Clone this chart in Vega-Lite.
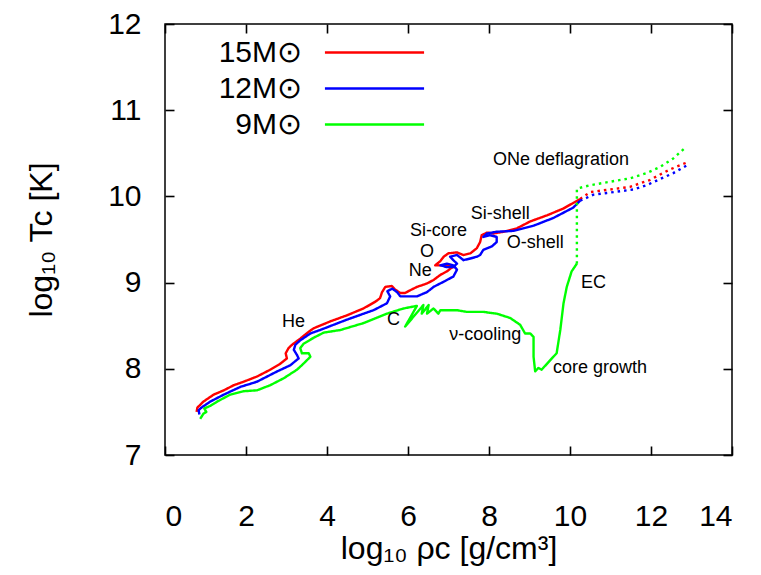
{
  "$schema": "https://vega.github.io/schema/vega-lite/v6.json",
  "autosize": {"type": "none"},
  "padding": {"left": 165, "top": 24, "right": 29, "bottom": 120},
  "width": 567,
  "height": 431,
  "config": {
    "font": "Liberation Sans",
    "view": {"stroke": "#000", "strokeWidth": 1.5},
    "axis": {"grid": false, "domain": false, "tickColor": "#000", "tickWidth": 1.6, "labelColor": "#000", "titleColor": "#000", "labelFont": "Liberation Sans", "titleFont": "Liberation Sans", "titleFontWeight": "normal"}
  },
  "datasets": {
    "tracks": [
      {"s":"15M⊙","p":"hydro","i":1,"x":0.78,"y":7.50},{"s":"15M⊙","p":"hydro","i":2,"x":0.80,"y":7.55},{"s":"15M⊙","p":"hydro","i":3,"x":0.95,"y":7.62},{"s":"15M⊙","p":"hydro","i":4,"x":1.20,"y":7.70},{"s":"15M⊙","p":"hydro","i":5,"x":1.45,"y":7.75},{"s":"15M⊙","p":"hydro","i":6,"x":1.70,"y":7.81},{"s":"15M⊙","p":"hydro","i":7,"x":1.94,"y":7.85},{"s":"15M⊙","p":"hydro","i":8,"x":2.27,"y":7.91},{"s":"15M⊙","p":"hydro","i":9,"x":2.60,"y":7.99},{"s":"15M⊙","p":"hydro","i":10,"x":2.85,"y":8.06},{"s":"15M⊙","p":"hydro","i":11,"x":3.01,"y":8.12},{"s":"15M⊙","p":"hydro","i":12,"x":2.98,"y":8.18},{"s":"15M⊙","p":"hydro","i":13,"x":3.05,"y":8.24},{"s":"15M⊙","p":"hydro","i":14,"x":3.14,"y":8.28},{"s":"15M⊙","p":"hydro","i":15,"x":3.34,"y":8.35},{"s":"15M⊙","p":"hydro","i":16,"x":3.55,"y":8.43},{"s":"15M⊙","p":"hydro","i":17,"x":3.67,"y":8.47},{"s":"15M⊙","p":"hydro","i":18,"x":4.08,"y":8.55},{"s":"15M⊙","p":"hydro","i":19,"x":4.49,"y":8.62},{"s":"15M⊙","p":"hydro","i":20,"x":4.90,"y":8.70},{"s":"15M⊙","p":"hydro","i":21,"x":5.20,"y":8.78},{"s":"15M⊙","p":"hydro","i":22,"x":5.31,"y":8.82},{"s":"15M⊙","p":"hydro","i":23,"x":5.36,"y":8.89},{"s":"15M⊙","p":"hydro","i":24,"x":5.44,"y":8.95},{"s":"15M⊙","p":"hydro","i":25,"x":5.60,"y":8.96},{"s":"15M⊙","p":"hydro","i":26,"x":5.68,"y":8.92},{"s":"15M⊙","p":"hydro","i":27,"x":5.81,"y":8.88},{"s":"15M⊙","p":"hydro","i":28,"x":5.93,"y":8.88},{"s":"15M⊙","p":"hydro","i":29,"x":6.05,"y":8.91},{"s":"15M⊙","p":"hydro","i":30,"x":6.22,"y":8.95},{"s":"15M⊙","p":"hydro","i":31,"x":6.47,"y":8.99},{"s":"15M⊙","p":"hydro","i":32,"x":6.63,"y":9.03},{"s":"15M⊙","p":"hydro","i":33,"x":6.80,"y":9.09},{"s":"15M⊙","p":"hydro","i":34,"x":6.96,"y":9.13},{"s":"15M⊙","p":"hydro","i":35,"x":7.04,"y":9.16},{"s":"15M⊙","p":"hydro","i":36,"x":7.15,"y":9.19},{"s":"15M⊙","p":"hydro","i":37,"x":6.92,"y":9.20},{"s":"15M⊙","p":"hydro","i":38,"x":6.67,"y":9.20},{"s":"15M⊙","p":"hydro","i":39,"x":6.80,"y":9.25},{"s":"15M⊙","p":"hydro","i":40,"x":6.88,"y":9.30},{"s":"15M⊙","p":"hydro","i":41,"x":7.00,"y":9.34},{"s":"15M⊙","p":"hydro","i":42,"x":7.21,"y":9.35},{"s":"15M⊙","p":"hydro","i":43,"x":7.37,"y":9.32},{"s":"15M⊙","p":"hydro","i":44,"x":7.54,"y":9.34},{"s":"15M⊙","p":"hydro","i":45,"x":7.70,"y":9.40},{"s":"15M⊙","p":"hydro","i":46,"x":7.78,"y":9.47},{"s":"15M⊙","p":"hydro","i":47,"x":7.82,"y":9.55},{"s":"15M⊙","p":"hydro","i":48,"x":7.95,"y":9.58},{"s":"15M⊙","p":"hydro","i":49,"x":8.11,"y":9.57},{"s":"15M⊙","p":"hydro","i":50,"x":8.36,"y":9.59},{"s":"15M⊙","p":"hydro","i":51,"x":8.69,"y":9.63},{"s":"15M⊙","p":"hydro","i":52,"x":9.02,"y":9.71},{"s":"15M⊙","p":"hydro","i":53,"x":9.43,"y":9.78},{"s":"15M⊙","p":"hydro","i":54,"x":9.84,"y":9.86},{"s":"15M⊙","p":"hydro","i":55,"x":10.25,"y":9.97},
      {"s":"15M⊙","p":"defl","i":56,"x":10.25,"y":9.97},{"s":"15M⊙","p":"defl","i":57,"x":10.50,"y":10.05},{"s":"15M⊙","p":"defl","i":58,"x":10.82,"y":10.07},{"s":"15M⊙","p":"defl","i":59,"x":11.15,"y":10.09},{"s":"15M⊙","p":"defl","i":60,"x":11.48,"y":10.11},{"s":"15M⊙","p":"defl","i":61,"x":11.72,"y":10.15},{"s":"15M⊙","p":"defl","i":62,"x":11.97,"y":10.19},{"s":"15M⊙","p":"defl","i":63,"x":12.21,"y":10.25},{"s":"15M⊙","p":"defl","i":64,"x":12.46,"y":10.31},{"s":"15M⊙","p":"defl","i":65,"x":12.71,"y":10.36},{"s":"15M⊙","p":"defl","i":66,"x":12.92,"y":10.40},
      {"s":"12M⊙","p":"hydro","i":101,"x":0.85,"y":7.47},{"s":"12M⊙","p":"hydro","i":102,"x":0.83,"y":7.52},{"s":"12M⊙","p":"hydro","i":103,"x":0.90,"y":7.55},{"s":"12M⊙","p":"hydro","i":104,"x":1.12,"y":7.62},{"s":"12M⊙","p":"hydro","i":105,"x":1.45,"y":7.70},{"s":"12M⊙","p":"hydro","i":106,"x":1.86,"y":7.79},{"s":"12M⊙","p":"hydro","i":107,"x":2.27,"y":7.85},{"s":"12M⊙","p":"hydro","i":108,"x":2.77,"y":7.97},{"s":"12M⊙","p":"hydro","i":109,"x":3.09,"y":8.04},{"s":"12M⊙","p":"hydro","i":110,"x":3.30,"y":8.12},{"s":"12M⊙","p":"hydro","i":111,"x":3.26,"y":8.16},{"s":"12M⊙","p":"hydro","i":112,"x":3.18,"y":8.22},{"s":"12M⊙","p":"hydro","i":113,"x":3.22,"y":8.28},{"s":"12M⊙","p":"hydro","i":114,"x":3.34,"y":8.33},{"s":"12M⊙","p":"hydro","i":115,"x":3.59,"y":8.41},{"s":"12M⊙","p":"hydro","i":116,"x":3.83,"y":8.45},{"s":"12M⊙","p":"hydro","i":117,"x":4.49,"y":8.57},{"s":"12M⊙","p":"hydro","i":118,"x":5.15,"y":8.68},{"s":"12M⊙","p":"hydro","i":119,"x":5.48,"y":8.76},{"s":"12M⊙","p":"hydro","i":120,"x":5.56,"y":8.84},{"s":"12M⊙","p":"hydro","i":121,"x":5.49,"y":8.90},{"s":"12M⊙","p":"hydro","i":122,"x":5.61,"y":8.93},{"s":"12M⊙","p":"hydro","i":123,"x":5.73,"y":8.89},{"s":"12M⊙","p":"hydro","i":124,"x":5.81,"y":8.84},{"s":"12M⊙","p":"hydro","i":125,"x":6.22,"y":8.84},{"s":"12M⊙","p":"hydro","i":126,"x":6.47,"y":8.89},{"s":"12M⊙","p":"hydro","i":127,"x":6.63,"y":8.95},{"s":"12M⊙","p":"hydro","i":128,"x":6.88,"y":9.01},{"s":"12M⊙","p":"hydro","i":129,"x":7.12,"y":9.07},{"s":"12M⊙","p":"hydro","i":130,"x":7.21,"y":9.15},{"s":"12M⊙","p":"hydro","i":131,"x":7.12,"y":9.20},{"s":"12M⊙","p":"hydro","i":132,"x":6.96,"y":9.22},{"s":"12M⊙","p":"hydro","i":133,"x":6.80,"y":9.20},{"s":"12M⊙","p":"hydro","i":134,"x":6.96,"y":9.18},{"s":"12M⊙","p":"hydro","i":135,"x":7.12,"y":9.18},{"s":"12M⊙","p":"hydro","i":136,"x":7.21,"y":9.22},{"s":"12M⊙","p":"hydro","i":137,"x":7.12,"y":9.26},{"s":"12M⊙","p":"hydro","i":138,"x":7.04,"y":9.30},{"s":"12M⊙","p":"hydro","i":139,"x":7.21,"y":9.32},{"s":"12M⊙","p":"hydro","i":140,"x":7.37,"y":9.26},{"s":"12M⊙","p":"hydro","i":141,"x":7.54,"y":9.28},{"s":"12M⊙","p":"hydro","i":142,"x":7.70,"y":9.30},{"s":"12M⊙","p":"hydro","i":143,"x":7.78,"y":9.32},{"s":"12M⊙","p":"hydro","i":144,"x":7.86,"y":9.38},{"s":"12M⊙","p":"hydro","i":145,"x":8.07,"y":9.42},{"s":"12M⊙","p":"hydro","i":146,"x":8.19,"y":9.47},{"s":"12M⊙","p":"hydro","i":147,"x":8.19,"y":9.53},{"s":"12M⊙","p":"hydro","i":148,"x":8.03,"y":9.55},{"s":"12M⊙","p":"hydro","i":149,"x":7.86,"y":9.53},{"s":"12M⊙","p":"hydro","i":150,"x":7.95,"y":9.57},{"s":"12M⊙","p":"hydro","i":151,"x":8.19,"y":9.59},{"s":"12M⊙","p":"hydro","i":152,"x":8.60,"y":9.60},{"s":"12M⊙","p":"hydro","i":153,"x":9.10,"y":9.66},{"s":"12M⊙","p":"hydro","i":154,"x":9.59,"y":9.75},{"s":"12M⊙","p":"hydro","i":155,"x":10.08,"y":9.87},{"s":"12M⊙","p":"hydro","i":156,"x":10.25,"y":9.95},
      {"s":"12M⊙","p":"defl","i":157,"x":10.25,"y":9.95},{"s":"12M⊙","p":"defl","i":158,"x":10.58,"y":10.02},{"s":"12M⊙","p":"defl","i":159,"x":10.91,"y":10.04},{"s":"12M⊙","p":"defl","i":160,"x":11.24,"y":10.06},{"s":"12M⊙","p":"defl","i":161,"x":11.56,"y":10.08},{"s":"12M⊙","p":"defl","i":162,"x":11.89,"y":10.13},{"s":"12M⊙","p":"defl","i":163,"x":12.22,"y":10.20},{"s":"12M⊙","p":"defl","i":164,"x":12.55,"y":10.27},{"s":"12M⊙","p":"defl","i":165,"x":12.92,"y":10.37},
      {"s":"9M⊙","p":"hydro","i":201,"x":0.87,"y":7.42},{"s":"9M⊙","p":"hydro","i":202,"x":0.95,"y":7.48},{"s":"9M⊙","p":"hydro","i":203,"x":1.02,"y":7.50},{"s":"9M⊙","p":"hydro","i":204,"x":0.97,"y":7.54},{"s":"9M⊙","p":"hydro","i":205,"x":1.12,"y":7.57},{"s":"9M⊙","p":"hydro","i":206,"x":1.29,"y":7.62},{"s":"9M⊙","p":"hydro","i":207,"x":1.61,"y":7.70},{"s":"9M⊙","p":"hydro","i":208,"x":1.94,"y":7.74},{"s":"9M⊙","p":"hydro","i":209,"x":2.27,"y":7.75},{"s":"9M⊙","p":"hydro","i":210,"x":2.60,"y":7.81},{"s":"9M⊙","p":"hydro","i":211,"x":2.93,"y":7.89},{"s":"9M⊙","p":"hydro","i":212,"x":3.26,"y":7.99},{"s":"9M⊙","p":"hydro","i":213,"x":3.42,"y":8.06},{"s":"9M⊙","p":"hydro","i":214,"x":3.59,"y":8.14},{"s":"9M⊙","p":"hydro","i":215,"x":3.55,"y":8.18},{"s":"9M⊙","p":"hydro","i":216,"x":3.38,"y":8.18},{"s":"9M⊙","p":"hydro","i":217,"x":3.34,"y":8.24},{"s":"9M⊙","p":"hydro","i":218,"x":3.42,"y":8.29},{"s":"9M⊙","p":"hydro","i":219,"x":3.67,"y":8.36},{"s":"9M⊙","p":"hydro","i":220,"x":3.92,"y":8.42},{"s":"9M⊙","p":"hydro","i":221,"x":4.33,"y":8.45},{"s":"9M⊙","p":"hydro","i":222,"x":4.90,"y":8.53},{"s":"9M⊙","p":"hydro","i":223,"x":5.48,"y":8.64},{"s":"9M⊙","p":"hydro","i":224,"x":5.89,"y":8.70},{"s":"9M⊙","p":"hydro","i":225,"x":6.22,"y":8.73},{"s":"9M⊙","p":"hydro","i":226,"x":5.93,"y":8.49},{"s":"9M⊙","p":"hydro","i":227,"x":6.38,"y":8.74},{"s":"9M⊙","p":"hydro","i":228,"x":6.34,"y":8.64},{"s":"9M⊙","p":"hydro","i":229,"x":6.51,"y":8.74},{"s":"9M⊙","p":"hydro","i":230,"x":6.47,"y":8.64},{"s":"9M⊙","p":"hydro","i":231,"x":6.63,"y":8.70},{"s":"9M⊙","p":"hydro","i":232,"x":6.75,"y":8.64},{"s":"9M⊙","p":"hydro","i":233,"x":6.80,"y":8.68},{"s":"9M⊙","p":"hydro","i":234,"x":7.21,"y":8.68},{"s":"9M⊙","p":"hydro","i":235,"x":7.45,"y":8.66},{"s":"9M⊙","p":"hydro","i":236,"x":7.86,"y":8.66},{"s":"9M⊙","p":"hydro","i":237,"x":8.19,"y":8.64},{"s":"9M⊙","p":"hydro","i":238,"x":8.52,"y":8.59},{"s":"9M⊙","p":"hydro","i":239,"x":8.77,"y":8.51},{"s":"9M⊙","p":"hydro","i":240,"x":8.89,"y":8.41},{"s":"9M⊙","p":"hydro","i":241,"x":9.02,"y":8.41},{"s":"9M⊙","p":"hydro","i":242,"x":9.10,"y":8.37},{"s":"9M⊙","p":"hydro","i":243,"x":9.10,"y":8.14},{"s":"9M⊙","p":"hydro","i":244,"x":9.14,"y":7.97},{"s":"9M⊙","p":"hydro","i":245,"x":9.22,"y":8.01},{"s":"9M⊙","p":"hydro","i":246,"x":9.30,"y":7.99},{"s":"9M⊙","p":"hydro","i":247,"x":9.59,"y":8.14},{"s":"9M⊙","p":"hydro","i":248,"x":9.67,"y":8.18},{"s":"9M⊙","p":"hydro","i":249,"x":9.76,"y":8.45},{"s":"9M⊙","p":"hydro","i":250,"x":9.84,"y":8.76},{"s":"9M⊙","p":"hydro","i":251,"x":9.92,"y":8.95},{"s":"9M⊙","p":"hydro","i":252,"x":10.04,"y":9.13},{"s":"9M⊙","p":"hydro","i":253,"x":10.17,"y":9.22},
      {"s":"9M⊙","p":"defl","i":254,"x":10.17,"y":9.22},{"s":"9M⊙","p":"defl","i":255,"x":10.17,"y":10.09},{"s":"9M⊙","p":"defl","i":256,"x":10.50,"y":10.13},{"s":"9M⊙","p":"defl","i":257,"x":10.99,"y":10.17},{"s":"9M⊙","p":"defl","i":258,"x":11.48,"y":10.21},{"s":"9M⊙","p":"defl","i":259,"x":11.89,"y":10.27},{"s":"9M⊙","p":"defl","i":260,"x":12.22,"y":10.34},{"s":"9M⊙","p":"defl","i":261,"x":12.55,"y":10.44},{"s":"9M⊙","p":"defl","i":262,"x":12.88,"y":10.58}
    ],
    "notes": [
      {"label":"He","x":3.17,"y":8.54},
      {"label":"C","x":5.64,"y":8.57},
      {"label":"Ne","x":6.30,"y":9.14},
      {"label":"O","x":6.47,"y":9.36},
      {"label":"Si-core","x":6.75,"y":9.60},
      {"label":"Si-shell","x":8.28,"y":9.80},
      {"label":"O-shell","x":9.14,"y":9.46},
      {"label":"ONe deflagration","x":9.78,"y":10.42},
      {"label":"EC","x":10.58,"y":8.99},
      {"label":"ν-cooling","x":7.91,"y":8.39},
      {"label":"core growth","x":10.74,"y":8.01}
    ]
  },
  "resolve": {"axis": {"x": "independent", "y": "independent"}},
  "layer": [
    {
      "data": {"name": "tracks"},
      "mark": {"type": "line", "strokeWidth": 2.4, "strokeCap": "butt", "strokeJoin": "round", "clip": true},
      "encoding": {
        "x": {"field": "x", "type": "quantitative", "scale": {"domain": [0, 14], "nice": false, "zero": false},
              "axis": {"orient": "bottom", "values": [0,2,4,6,8,10,12,14], "tickSize": -9, "labelFontSize": 30, "labelPadding": 55, "title": "log₁₀ ρc [g/cm³]", "titleFontSize": 32, "titlePadding": 2}},
        "y": {"field": "y", "type": "quantitative", "scale": {"domain": [7, 12], "nice": false, "zero": false},
              "axis": {"orient": "left", "values": [7,8,9,10,11,12], "tickSize": -9, "labelFontSize": 30, "labelPadding": 33, "title": "log₁₀ Tc [K]", "titleFontSize": 32, "titlePadding": 49}},
        "color": {"field": "s", "type": "nominal", "scale": {"domain": ["15M⊙","12M⊙","9M⊙"], "range": ["#ff0000","#0000ff","#00ff00"]},
                  "legend": {"orient": "none", "legendX": 189, "legendY": 8, "title": null, "symbolType": "M-2.63,0H2.63", "symbolSize": 1421, "symbolStrokeWidth": 2.4, "labelFontSize": 30, "labelAlign": "right", "labelOffset": -93, "rowPadding": 0, "labelColor": "#000", "padding": 0}},
        "strokeDash": {"field": "p", "type": "nominal", "scale": {"domain": ["hydro","defl"], "range": [[1,0],[2.5,4]]}, "legend": null},
        "detail": {"field": "p"},
        "order": {"field": "i", "type": "quantitative"}
      }
    },
    {
      "data": {"name": "notes"},
      "mark": {"type": "text", "fontSize": 18, "font": "Liberation Sans", "color": "#000", "align": "center", "baseline": "middle"},
      "encoding": {
        "x": {"field": "x", "type": "quantitative", "axis": {"orient": "top", "values": [0,2,4,6,8,10,12,14], "tickSize": -9, "labels": false, "title": null}},
        "y": {"field": "y", "type": "quantitative", "axis": {"orient": "right", "values": [7,8,9,10,11,12], "tickSize": -9, "labels": false, "title": null}},
        "text": {"field": "label"}
      }
    }
  ]
}
